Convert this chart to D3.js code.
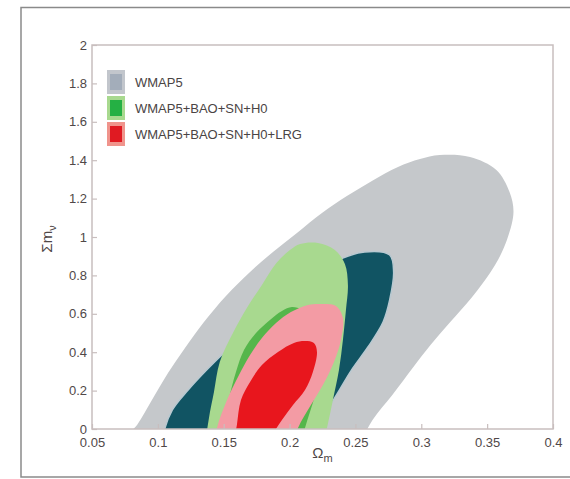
<!DOCTYPE html>
<html>
<head>
<meta charset="utf-8">
<script src="https://cdn.jsdelivr.net/npm/d3@7"></script>
<style>
  html, body { margin: 0; padding: 0; background: #fff; }
  svg { display: block; }
  text { font-family: "Liberation Sans", Arial, sans-serif; }
</style>
</head>
<body>
<svg id="chart" width="570" height="479"></svg>
<script>
// Axis ticks
const xTicks = [0.05, 0.1, 0.15, 0.2, 0.25, 0.3, 0.35, 0.4];
const yTicks = [0, 0.2, 0.4, 0.6, 0.8, 1, 1.2, 1.4, 1.6, 1.8, 2];

// Legend entries (one per constraint set)
const legendLabels = ["WMAP5", "WMAP5+BAO+SN+H0", "WMAP5+BAO+SN+H0+LRG"];

// Confidence contours, [Omega_m, Sum m_nu] boundary points (95% and 68%)
const wmap95 = [
  [0.314, 1.427], [0.337, 1.417], [0.357, 1.349], [0.367, 1.234], [0.370, 1.130],
  [0.365, 0.984], [0.356, 0.854], [0.338, 0.682], [0.322, 0.557], [0.307, 0.438],
  [0.294, 0.323], [0.278, 0.177], [0.263, 0.047], [0.250, -0.109], [0.231, -0.240],
  [0.094, -0.214], [0.075, -0.057], [0.0842, 0.021], [0.0955, 0.151], [0.1077, 0.292],
  [0.1206, 0.422], [0.135, 0.557], [0.1517, 0.693], [0.170, 0.818], [0.1874, 0.922],
  [0.2056, 1.021], [0.2246, 1.125], [0.2435, 1.213], [0.2625, 1.292], [0.2823, 1.365],
  [0.299, 1.406]
];
const wmap68 = [
  [0.257, 0.922], [0.276, 0.906], [0.279, 0.818], [0.276, 0.672], [0.271, 0.557],
  [0.2595, 0.427], [0.247, 0.307], [0.237, 0.193], [0.228, 0.089], [0.2215, -0.016],
  [0.2155, -0.161], [0.162, -0.266], [0.102, -0.172], [0.104, -0.031], [0.111, 0.099],
  [0.123, 0.203], [0.137, 0.307], [0.1585, 0.453], [0.184, 0.630], [0.212, 0.776],
  [0.237, 0.880]
];
const combo95 = [
  [0.208, 0.9635], [0.2215, 0.969], [0.2344, 0.932], [0.242, 0.859], [0.2443, 0.750],
  [0.2428, 0.620], [0.2405, 0.4635], [0.2375, 0.307], [0.2329, 0.151], [0.2284, 0.005],
  [0.223, -0.135], [0.189, -0.255], [0.141, -0.1875], [0.137, -0.057], [0.1388, 0.057],
  [0.1426, 0.193], [0.147, 0.349], [0.157, 0.500], [0.168, 0.635], [0.179, 0.750],
  [0.190, 0.8646], [0.2003, 0.932]
];
const combo68 = [
  [0.2018, 0.635], [0.2094, 0.620], [0.2215, 0.516], [0.2246, 0.359], [0.2193, 0.177],
  [0.2117, 0.005], [0.2064, -0.135], [0.170, -0.224], [0.1487, -0.120], [0.1487, 0.005],
  [0.154, 0.161], [0.1593, 0.297], [0.1654, 0.411], [0.1745, 0.500], [0.1851, 0.568],
  [0.1942, 0.615]
];
const lrg95 = [
  [0.2246, 0.651], [0.2352, 0.641], [0.2405, 0.578], [0.239, 0.4635], [0.2337, 0.349],
  [0.2253, 0.229], [0.2162, 0.125], [0.2064, 0.005], [0.2003, -0.135], [0.162, -0.224],
  [0.1426, -0.120], [0.1449, 0.005], [0.1525, 0.151], [0.1616, 0.281], [0.170, 0.385],
  [0.179, 0.474], [0.1897, 0.552], [0.201, 0.609], [0.214, 0.646]
];
const lrg68 = [
  [0.2117, 0.458], [0.2185, 0.448], [0.2208, 0.401], [0.2177, 0.297], [0.2117, 0.203],
  [0.2026, 0.125], [0.1942, 0.047], [0.1866, -0.036], [0.179, -0.161], [0.162, -0.203],
  [0.1578, -0.083], [0.160, 0.021], [0.1631, 0.151], [0.170, 0.245], [0.179, 0.333],
  [0.1912, 0.401], [0.2033, 0.448]
];

const svg = d3.select("#chart");
const plot = { left: 92, right: 553, top: 45, bottom: 429 };

const x = d3.scaleLinear().domain([0.05, 0.4]).range([plot.left, plot.right]);
const y = d3.scaleLinear().domain([0, 2]).range([plot.bottom, plot.top]);

// Figure border
svg.append("rect")
  .attr("x", 21).attr("y", 7.5)
  .attr("width", 560).attr("height", 469.5)
  .attr("fill", "#fff")
  .attr("stroke", "#8a8a8a")
  .attr("stroke-width", 1.5);

svg.append("defs").append("clipPath").attr("id", "plot-clip")
  .append("rect")
  .attr("x", plot.left).attr("y", plot.top)
  .attr("width", plot.right - plot.left).attr("height", plot.bottom - plot.top);

const line = d3.line()
  .x(d => x(d[0]))
  .y(d => y(d[1]))
  .curve(d3.curveCatmullRomClosed.alpha(0.5));

const layers = [
  { pts: wmap95, fill: "#c5c8cb", stroke: "none" },
  { pts: wmap68, fill: "#115463", stroke: "#b9c9d1" },
  { pts: combo95, fill: "#a8d98f", stroke: "none" },
  { pts: combo68, fill: "#55b64b", stroke: "none" },
  { pts: lrg95, fill: "#f39ba4", stroke: "none" },
  { pts: lrg68, fill: "#e8161d", stroke: "none" }
];

const g = svg.append("g").attr("clip-path", "url(#plot-clip)");
g.selectAll("path.contour")
  .data(layers)
  .join("path")
  .attr("class", "contour")
  .attr("d", d => line(d.pts))
  .attr("fill", d => d.fill)
  .attr("stroke", d => d.stroke)
  .attr("stroke-width", 1.5);

// Frame
const frameColor = "#c8bebe";
svg.append("rect")
  .attr("x", plot.left).attr("y", plot.top)
  .attr("width", plot.right - plot.left).attr("height", plot.bottom - plot.top)
  .attr("fill", "none")
  .attr("stroke", frameColor)
  .attr("stroke-width", 1.5);

// Axes
const xAxis = d3.axisBottom(x)
  .tickValues(xTicks)
  .tickFormat(d3.format("~g"))
  .tickSize(-5)
  .tickPadding(9);
const yAxis = d3.axisLeft(y)
  .tickValues(yTicks)
  .tickFormat(d3.format("~g"))
  .tickSize(-5)
  .tickPadding(5);

const gx = svg.append("g").attr("transform", `translate(0,${plot.bottom})`).call(xAxis);
const gy = svg.append("g").attr("transform", `translate(${plot.left},0)`).call(yAxis);
[gx, gy].forEach(a => {
  a.select(".domain").remove();
  a.selectAll(".tick line").attr("stroke", frameColor).attr("stroke-width", 1.2);
  a.selectAll(".tick text")
    .attr("fill", "#504848")
    .style("font-size", "13px")
    .style("font-family", "'Liberation Sans', Arial, sans-serif");
});

// Axis titles
const xt = svg.append("text")
  .attr("x", (plot.left + plot.right) / 2)
  .attr("y", 458)
  .attr("text-anchor", "middle")
  .attr("fill", "#504848")
  .style("font-size", "15px");
xt.append("tspan").text("Ω");
xt.append("tspan").attr("dy", 4).style("font-size", "11px").text("m");

const yt = svg.append("text")
  .attr("transform", `translate(52,${(plot.top + plot.bottom) / 2 + 2}) rotate(-90)`)
  .attr("text-anchor", "middle")
  .attr("fill", "#504848")
  .style("font-size", "15px");
yt.append("tspan").text("Σm");
yt.append("tspan").attr("dy", 4).style("font-size", "11px").text("ν");

// Legend
const legendFills = [
  ["#c2c6cc", "#a3adba"],
  ["#a8d98f", "#25b044"],
  ["#f0948c", "#e01a22"]
];
const lg = svg.append("g").attr("transform", "translate(107,70)");
const item = lg.selectAll("g.item")
  .data(legendLabels)
  .join("g")
  .attr("class", "item")
  .attr("transform", (d, i) => `translate(0,${i * 26})`);
item.append("rect")
  .attr("width", 18).attr("height", 24)
  .attr("fill", (d, i) => legendFills[i][0]);
item.append("rect")
  .attr("x", 3).attr("y", 4)
  .attr("width", 12).attr("height", 16)
  .attr("fill", (d, i) => legendFills[i][1]);
item.append("text")
  .attr("x", 28).attr("y", 16.5)
  .attr("fill", "#4a4444")
  .style("font-size", "13px")
  .text(d => d);
</script>
</body>
</html>
